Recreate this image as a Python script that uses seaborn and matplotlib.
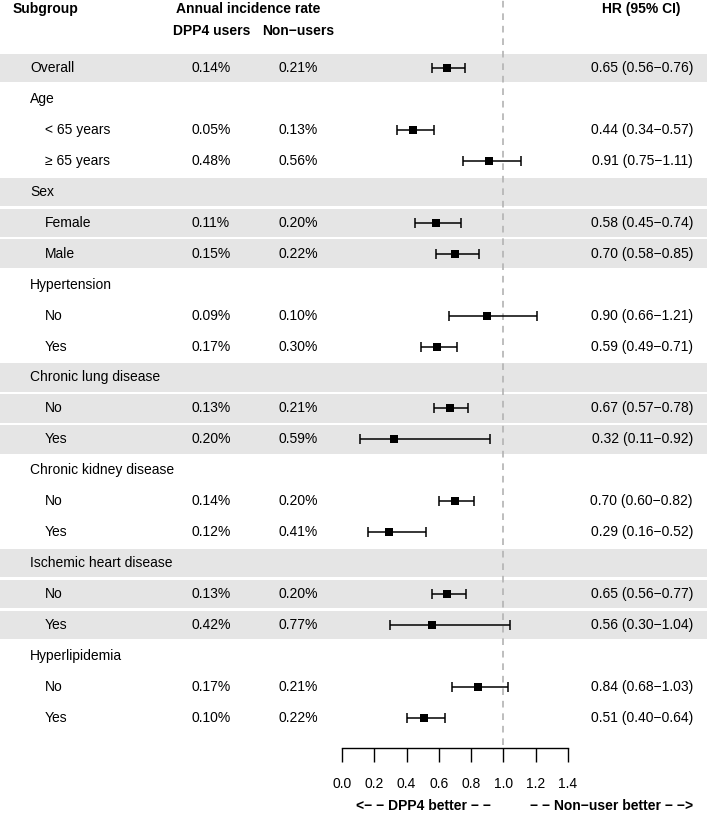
import numpy as np
import pandas as pd
import seaborn as sns
import matplotlib.pyplot as plt
import matplotlib.transforms as mtransforms

# ---- data ----
labels = ["Overall", "Age", "< 65 years", "\u2265 65 years", "Sex", "Female", "Male",
          "Hypertension", "No", "Yes", "Chronic lung disease", "No", "Yes",
          "Chronic kidney disease", "No", "Yes", "Ischemic heart disease", "No", "Yes",
          "Hyperlipidemia", "No", "Yes"]
is_sub = [0, 0, 1, 1, 0, 1, 1, 0, 1, 1, 0, 1, 1, 0, 1, 1, 0, 1, 1, 0, 1, 1]
shaded = [1, 0, 0, 0, 1, 1, 1, 0, 0, 0, 1, 1, 1, 0, 0, 0, 1, 1, 1, 0, 0, 0]
dpp4_rate = ["0.14%", "", "0.05%", "0.48%", "", "0.11%", "0.15%", "", "0.09%", "0.17%",
             "", "0.13%", "0.20%", "", "0.14%", "0.12%", "", "0.13%", "0.42%", "",
             "0.17%", "0.10%"]
non_rate = ["0.21%", "", "0.13%", "0.56%", "", "0.20%", "0.22%", "", "0.10%", "0.30%",
            "", "0.21%", "0.59%", "", "0.20%", "0.41%", "", "0.20%", "0.77%", "",
            "0.21%", "0.22%"]
nan = np.nan
hr = [0.65, nan, 0.44, 0.91, nan, 0.58, 0.70, nan, 0.90, 0.59, nan, 0.67, 0.32,
      nan, 0.70, 0.29, nan, 0.65, 0.56, nan, 0.84, 0.51]
lo = [0.56, nan, 0.34, 0.75, nan, 0.45, 0.58, nan, 0.66, 0.49, nan, 0.57, 0.11,
      nan, 0.60, 0.16, nan, 0.56, 0.30, nan, 0.68, 0.40]
hi = [0.76, nan, 0.57, 1.11, nan, 0.74, 0.85, nan, 1.21, 0.71, nan, 0.78, 0.92,
      nan, 0.82, 0.52, nan, 0.77, 1.04, nan, 1.03, 0.64]
ticks = [0.0, 0.2, 0.4, 0.6, 0.8, 1.0, 1.2, 1.4]

df = pd.DataFrame({"label": labels, "sub": is_sub, "shade": shaded,
                   "dpp4": dpp4_rate, "non": non_rate, "hr": hr, "lo": lo, "hi": hi})
df["row"] = np.arange(len(df))

sns.set_theme(style="white", rc={"text.color": "black", "xtick.color": "black",
                                 "axes.labelcolor": "black"})
plt.rcParams["font.family"] = ["Liberation Sans", "DejaVu Sans"]
FS = 10

W, H = 707, 816
fig = plt.figure(figsize=(W / 100, H / 100), dpi=100)
ax = fig.add_axes([0, 0, 1, 1])

# pixel layout: HR 0 at px 342, 161.4 px per unit; row 0 at px 68, 30.95 px per row
x0, xs = 342, 161.4
y0, ys = 68, 30.95
ax.set_xlim((0 - x0) / xs, (W - x0) / xs)
ax.set_ylim((H - y0) / ys, (0 - y0) / ys)

def py(p):
    return (p - y0) / ys

# shaded bands
for r in df.loc[df["shade"] == 1, "row"]:
    ax.axhspan(r - 0.46, r + 0.46, color="#e5e5e5", lw=0, zorder=0)

# reference line at HR = 1
ax.axvline(1.0, ymin=1 - 745 / H, ymax=1, color="#b3b3b3", lw=1.2,
           ls=(0, (4, 3.5)), zorder=1)

# CIs and point estimates
d = df.dropna(subset=["hr"])
ax.errorbar(d["hr"], d["row"], xerr=[d["hr"] - d["lo"], d["hi"] - d["hr"]],
            fmt="none", ecolor="black", elinewidth=1.1, capsize=3.3, capthick=1.1, zorder=2)
sns.scatterplot(data=d, x="hr", y="row", marker="s", s=32, color="black",
                edgecolor="black", linewidth=0, ax=ax, zorder=3, legend=False)

# table text (x in axes fraction, y in rows)
tr = mtransforms.blended_transform_factory(ax.transAxes, ax.transData)
for _, r in df.iterrows():
    xl = 45 if r["sub"] else 30
    ax.text(xl / W, r["row"], r["label"], transform=tr, ha="left", va="center", fontsize=FS)
    if r["dpp4"]:
        ax.text(211 / W, r["row"], r["dpp4"], transform=tr, ha="center", va="center", fontsize=FS)
        ax.text(298 / W, r["row"], r["non"], transform=tr, ha="center", va="center", fontsize=FS)
    if not np.isnan(r["hr"]):
        s = f"{r['hr']:.2f} ({r['lo']:.2f}\u2212{r['hi']:.2f})"
        ax.text(693 / W, r["row"], s, transform=tr, ha="right", va="center", fontsize=FS)

# headers
ax.text(13 / W, py(9), "Subgroup", transform=tr, ha="left", va="center", fontsize=FS, fontweight="bold")
ax.text(248 / W, py(9), "Annual incidence rate", transform=tr, ha="center", va="center", fontsize=FS, fontweight="bold")
ax.text(212 / W, py(31), "DPP4 users", transform=tr, ha="center", va="center", fontsize=FS, fontweight="bold")
ax.text(298 / W, py(31), "Non\u2212users", transform=tr, ha="center", va="center", fontsize=FS, fontweight="bold")
ax.text(641 / W, py(9), "HR (95% CI)", transform=tr, ha="center", va="center", fontsize=FS, fontweight="bold")

# bottom axis
for sp in ["top", "left", "right"]:
    ax.spines[sp].set_visible(False)
ax.spines["bottom"].set_position(("data", py(748)))
ax.spines["bottom"].set_bounds(0, 1.4)
ax.spines["bottom"].set_color("black")
ax.spines["bottom"].set_linewidth(1.0)
ax.set_xticks(ticks)
ax.set_xticklabels([f"{t:.1f}" for t in ticks], fontsize=FS)
ax.tick_params(axis="x", bottom=True, direction="out", length=10, width=1.0,
               color="black", labelcolor="black", pad=11)
ax.set_yticks([])
ax.set_xlabel("")
ax.set_ylabel("")

ax.text(424 / W, py(806), "<\u2212 \u2212 DPP4 better \u2212 \u2212", transform=tr,
        ha="center", va="center", fontsize=FS, fontweight="bold")
ax.text(693 / W, py(806), "\u2212 \u2212 Non\u2212user better \u2212 \u2212>", transform=tr,
        ha="right", va="center", fontsize=FS, fontweight="bold")

fig.savefig("out.png", dpi=100)
